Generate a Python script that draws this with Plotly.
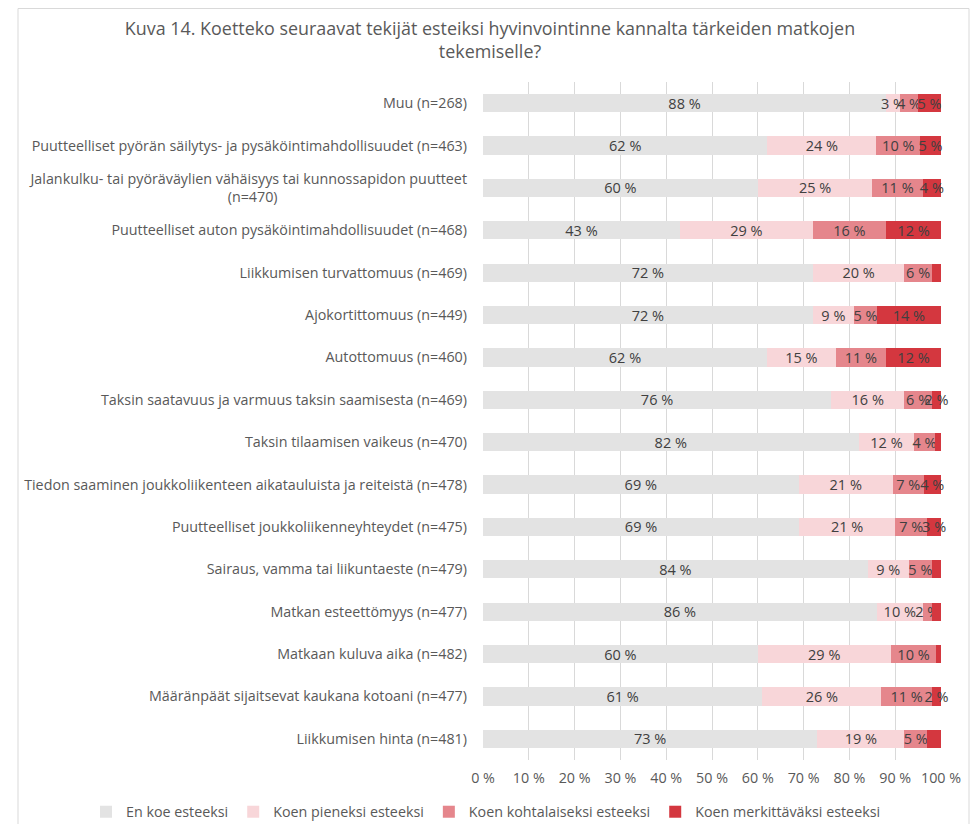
import plotly.graph_objects as go

categories = [
    "Muu (n=268)",
    "Puutteelliset pyörän säilytys- ja pysäköintimahdollisuudet (n=463)",
    "Jalankulku- tai pyöräväylien vähäisyys tai kunnossapidon puutteet<br>(n=470)" + "\u00a0" * 51,
    "Puutteelliset auton pysäköintimahdollisuudet (n=468)",
    "Liikkumisen turvattomuus (n=469)",
    "Ajokortittomuus (n=449)",
    "Autottomuus (n=460)",
    "Taksin saatavuus ja varmuus taksin saamisesta (n=469)",
    "Taksin tilaamisen vaikeus (n=470)",
    "Tiedon saaminen joukkoliikenteen aikatauluista ja reiteistä (n=478)",
    "Puutteelliset joukkoliikenneyhteydet (n=475)",
    "Sairaus, vamma tai liikuntaeste (n=479)",
    "Matkan esteettömyys (n=477)",
    "Matkaan kuluva aika (n=482)",
    "Määränpäät sijaitsevat kaukana kotoani (n=477)",
    "Liikkumisen hinta (n=481)",
]

series_names = ["En koe esteeksi", "Koen pieneksi esteeksi",
                "Koen kohtalaiseksi esteeksi", "Koen merkittäväksi esteeksi"]

en_koe = [88, 62.1, 60, 43, 72, 72, 62, 76, 82.0, 68.9, 69, 84, 86, 60, 61, 73]
pieni = [3, 23.8, 25, 29, 20, 9, 15, 16, 12.2, 20.6, 21, 9, 10, 29, 26, 19]
kohtalainen = [4, 9.55, 11, 16, 6, 5, 11, 6, 4.4, 6.7, 7, 5, 2, 10, 11, 5]
merkittava = [5, 4.55, 4, 12, 2, 14, 12, 2, 1.4, 3.8, 3, 2, 2, 1, 2, 3]
# data labels hidden in the original for these rows of the last series
merkittava_label_shown = [True, True, True, True, False, True, True, True, True,
                          True, True, False, False, False, True, False]

colors = ["#E3E3E3", "#F8D6D9", "#E5868C", "#D4373F"]
x_ticks = [0, 10, 20, 30, 40, 50, 60, 70, 80, 90, 100]
x_tick_labels = [f"{t} %" for t in x_ticks]

all_series = [en_koe, pieni, kohtalainen, merkittava]

W, H = 964, 816
ML, MR, MT, MB = 475, 31, 74, 64
PW, PH = W - ML - MR, H - MT - MB

fig = go.Figure()
for i, (name, vals) in enumerate(zip(series_names, all_series)):
    if i == 3:
        texts = [f"{int(v + 0.5)} %" if s else "" for v, s in zip(vals, merkittava_label_shown)]
    else:
        texts = [f"{int(v + 0.5)} %" for v in vals]
    fig.add_trace(go.Bar(
        y=categories, x=vals, name=name, orientation="h",
        marker=dict(color=colors[i], line=dict(width=0)),
        text=texts, textposition="inside", insidetextanchor="middle",
        textangle=0,
        textfont=dict(color="#404040", size=14.5, family="Open Sans"),
        constraintext="none", cliponaxis=False,
    ))

fig.update_layout(
    barmode="stack",
    bargap=0.57,
    width=W, height=H,
    paper_bgcolor="white", plot_bgcolor="white",
    font=dict(family="Open Sans", color="#595959", size=14.3),
    title=dict(
        text="Kuva 14. Koetteko seuraavat tekijät esteiksi hyvinvointinne kannalta tärkeiden matkojen<br>tekemiselle?",
        x=0.5, xanchor="center", y=0.967, yanchor="top",
        font=dict(size=17.9, color="#595959", family="Open Sans"),
    ),
    margin=dict(l=ML, r=MR, t=MT, b=MB, autoexpand=False),
    uniformtext=dict(mode="show", minsize=14.5),
    legend=dict(orientation="h", x=(78 - ML) / PW, xanchor="left",
                y=-0.053, yanchor="top",
                font=dict(size=14.3, color="#595959"), traceorder="normal"),
    xaxis=dict(range=[0, 100], tickvals=x_ticks, ticktext=x_tick_labels,
               showgrid=True, gridcolor="#D9D9D9", gridwidth=1,
               zeroline=False, showline=False, ticks="", ticklabelstandoff=8,
               fixedrange=True),
    yaxis=dict(autorange="reversed", showgrid=False, ticks="", ticklen=0,
               showline=False, ticklabelstandoff=15),
    shapes=[dict(type="rect", xref="paper", yref="paper",
                 x0=(10 - ML) / PW, x1=(961 - ML) / PW,
                 y0=-0.12, y1=(PH + MT - 0.5) / PH,
                 line=dict(color="#D9D9D9", width=1), fillcolor="rgba(0,0,0,0)",
                 layer="below")],
)

fig.write_html("out.html")
